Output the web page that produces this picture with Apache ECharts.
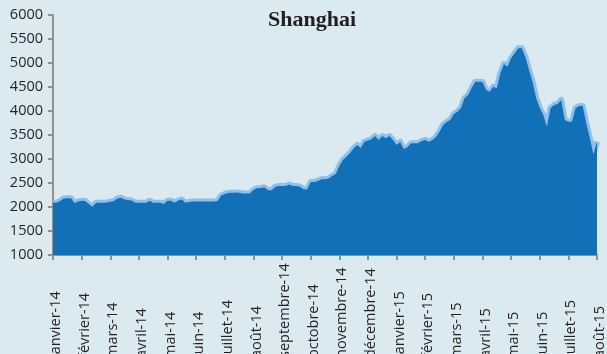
<!DOCTYPE html>
<html>
<head>
<meta charset="utf-8">
<script src="https://cdn.jsdelivr.net/npm/echarts@6/dist/echarts.min.js"></script>
<style>
  html, body { margin: 0; padding: 0; background: #dbe9f1; }
  #chart { width: 607px; height: 354px; }
</style>
</head>
<body>
<div id="chart"></div>
<script>
// Month labels shown under the axis (one per tick)
const months = [
  'janvier-14', 'février-14', 'mars-14', 'avril-14', 'mai-14', 'juin-14',
  'juillet-14', 'août-14', 'septembre-14', 'octobre-14', 'novembre-14', 'décembre-14',
  'janvier-15', 'février-15', 'mars-15', 'avril-15', 'mai-15', 'juin-15',
  'juillet-15', 'août-15'
];

// Samples between two month ticks
const perMonth = 8;

// Index level, sampled evenly through the period
const closes = [
  2090, 2090, 2125, 2177, 2181, 2181, 2083, 2115,
  2131, 2125, 2062, 2006, 2090, 2090, 2090, 2094,
  2110, 2125, 2177, 2194, 2156, 2146, 2135, 2090,
  2090, 2090, 2090, 2131, 2090, 2090, 2090, 2062,
  2131, 2131, 2090, 2135, 2156, 2090, 2104, 2115,
  2115, 2115, 2115, 2115, 2115, 2115, 2125, 2240,
  2271, 2292, 2298, 2302, 2298, 2281, 2281, 2281,
  2354, 2390, 2396, 2410, 2354, 2344, 2417, 2437,
  2437, 2437, 2469, 2437, 2437, 2423, 2369, 2365,
  2521, 2521, 2542, 2577, 2577, 2594, 2646, 2687,
  2854, 2979, 3048, 3125, 3223, 3292, 3229, 3360,
  3385, 3410, 3479, 3396, 3479, 3431, 3479, 3396,
  3292, 3354, 3208, 3244, 3327, 3327, 3327, 3375,
  3396, 3360, 3396, 3458, 3569, 3708, 3771, 3812,
  3937, 3985, 4062, 4271, 4333, 4479, 4610, 4610,
  4604, 4437, 4402, 4506, 4473, 4785, 4979, 4923,
  5098, 5202, 5306, 5306, 5125, 4854, 4604, 4271,
  4062, 3917, 3673, 4056, 4125, 4146, 4229, 3812,
  3777, 3777, 4056, 4104, 4104, 3744, 3431, 3100,
  3361
];

// Y axis range
const yMin = 1000, yMax = 6000, yStep = 500;

// One category per sample; month ticks fall on every perMonth-th sample
const categories = closes.map((_, i) =>
  i % perMonth === 0 ? months[i / perMonth] : months[Math.floor(i / perMonth)] + '·' + (i % perMonth)
);
const onTick = (i) => i % perMonth === 0;

const axisGrey = '#8d9297';
const textFont = "'Open Sans', 'Noto Sans', sans-serif";

const chart = echarts.init(document.getElementById('chart'), null, { renderer: 'canvas' });
chart.setOption({
  backgroundColor: '#dbe9f1',
  animation: false,
  title: {
    text: 'Shanghai',
    left: 263,
    top: 4,
    textStyle: {
      fontFamily: "'Liberation Serif', 'DejaVu Serif', serif",
      fontWeight: 'bold',
      fontSize: 22,
      color: '#231f20'
    }
  },
  grid: { left: 53, right: 10, top: 15, bottom: 99, containLabel: false, outerBoundsMode: 'none' },
  xAxis: {
    type: 'category',
    data: categories,
    boundaryGap: false,
    axisLine: { show: true, lineStyle: { color: axisGrey, width: 2 } },
    axisTick: { show: true, interval: onTick, length: 5, lineStyle: { color: axisGrey, width: 2 } },
    axisLabel: {
      interval: onTick,
      rotate: 90,
      align: 'left',
      verticalAlign: 'top',
      lineHeight: 6,
      margin: 103,
      fontFamily: textFont,
      fontSize: 14.5,
      color: '#231f20'
    },
    splitLine: { show: false }
  },
  yAxis: {
    type: 'value',
    min: yMin,
    max: yMax,
    interval: yStep,
    axisLine: { show: true, lineStyle: { color: axisGrey, width: 2 } },
    axisTick: { show: true, length: 5, lineStyle: { color: axisGrey, width: 2 } },
    axisLabel: {
      margin: 10,
      formatter: (v) => String(v),
      fontFamily: textFont,
      fontSize: 14.5,
      color: '#231f20'
    },
    splitLine: { show: false }
  },
  series: [
    {
      // light outline behind the filled area
      type: 'line',
      data: closes,
      symbol: 'none',
      z: 1,
      lineStyle: { color: '#8fc0e8', width: 6, join: 'round' }
    },
    {
      type: 'line',
      data: closes,
      symbol: 'none',
      z: 2,
      lineStyle: { width: 0 },
      areaStyle: { color: '#1170b8', opacity: 1, origin: 'start' }
    }
  ]
});
</script>
</body>
</html>
